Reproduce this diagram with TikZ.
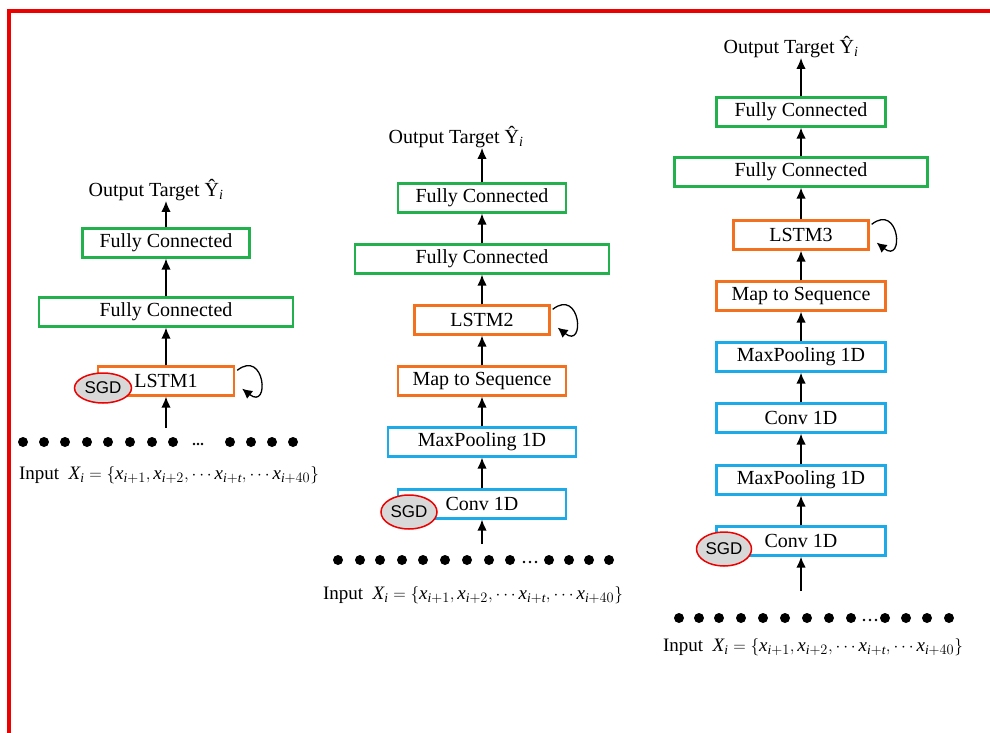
\documentclass[tikz,border=0pt]{standalone}
\usepackage{fontspec}
\setmainfont{Liberation Serif}
\newfontfamily\sgdfont{Liberation Sans}
\usetikzlibrary{arrows.meta,shapes.geometric}
\definecolor{fcgreen}{RGB}{34,177,76}
\definecolor{lorange}{RGB}{242,112,30}
\definecolor{cblue}{RGB}{28,170,232}
\definecolor{sgdgray}{RGB}{216,216,216}
\definecolor{framered}{RGB}{236,0,0}
\newcommand\inputtext{Input\enspace $\mathit{X}_{\mathit{i}}=\{\mathit{x}_{\mathit{i}+1},\mathit{x}_{\mathit{i}+2},\cdots\mathit{x}_{\mathit{i}+\mathit{t}},\cdots\mathit{x}_{\mathit{i}+40}\}$}
\newcommand\outtext{Output Target Ŷ\textsubscript{\itshape i}}
\tikzset{
  box/.style={draw, line width=2.3pt, minimum height=29pt, inner sep=0pt, fill=white,
              font=\fontsize{20}{24}\selectfont},
  fcbox/.style={box, draw=fcgreen},
  lsbox/.style={box, draw=lorange},
  cvbox/.style={box, draw=cblue},
  txt/.style={inner sep=0pt, font=\fontsize{20}{24}\selectfont},
  intxt/.style={inner sep=0pt, font=\fontsize{19}{23}\selectfont},
  sgd/.style={ellipse, draw=framered, line width=1.5pt, fill=sgdgray, inner sep=0pt,
              font=\sgdfont\fontsize{17}{20}\selectfont},
  arr/.style={-{Latex[length=11pt,width=9.5pt]}, line width=1.4pt},
  looparr/.style={-{Latex[length=10pt,width=10pt]}, line width=1.3pt},
  bigdot/.style={fill=black},
}
\begin{document}
\begin{tikzpicture}[x=1pt,y=-1pt]
\useasboundingbox (0,0) rectangle (990,733);
% red frame (top and left edges)
\draw[framered, line width=4pt] (8.5,733) -- (8.5,11) -- (990,11);

% ---------- left column ----------
\node[txt] (outA) at (156,190) {\outtext};
\node[fcbox, minimum width=167pt] (fcA1) at (166,243) {Fully Connected};
\node[fcbox, minimum width=254pt] (fcA2) at (166,312) {Fully Connected};
\node[lsbox, minimum width=136pt] (lsA) at (166,381) {LSTM1};
\node[sgd, minimum width=57pt, minimum height=30pt] (sgdA) at (103,388) {SGD};
\coordinate (inA) at (166,428);
\draw[arr] (fcA1) -- (fcA1 |- outA.south);
\draw[arr] (fcA2) -- (fcA1);
\draw[arr] (lsA) -- (fcA2);
\draw[arr] (inA) -- (lsA);
\draw[looparr] ([shift={(2,5)}]lsA.north east) .. controls +(28,-22) and +(28,22) .. ([shift={(7,-8)}]lsA.south east);
\foreach \x in {23,44,65,87,108,130,152,173,230,251,272,293} \fill[bigdot] (\x,442) circle (5);
\foreach \x in {194,198,202} \fill (\x,444) circle (1.3);
\node[intxt] (xA) at (169,475) {\inputtext};

% ---------- middle column ----------
\node[txt] (outB) at (456,137) {\outtext};
\node[fcbox, minimum width=168pt] (fcB1) at (482,198) {Fully Connected};
\node[fcbox, minimum width=254pt] (fcB2) at (482,259) {Fully Connected};
\node[lsbox, minimum width=135pt] (lsB) at (482,320) {LSTM2};
\node[lsbox, minimum width=168pt] (mapB) at (482,381) {Map to Sequence};
\node[cvbox, minimum width=188pt] (mpB) at (482,442) {MaxPooling 1D};
\node[cvbox, minimum width=168pt] (cvB) at (482,504) {Conv 1D};
\node[sgd, minimum width=56pt, minimum height=34pt] (sgdB) at (409,512) {SGD};
\coordinate (inB) at (482,544);
\draw[arr] (fcB1) -- (fcB1 |- outB.south);
\draw[arr] (fcB2) -- (fcB1);
\draw[arr] (lsB) -- (fcB2);
\draw[arr] (mapB) -- (lsB);
\draw[arr] (mpB) -- (mapB);
\draw[arr] (cvB) -- (mpB);
\draw[arr] (inB) -- (cvB);
\draw[looparr] ([shift={(2,5)}]lsB.north east) .. controls +(28,-22) and +(28,22) .. ([shift={(7,-8)}]lsB.south east);
\foreach \x in {338,360,380,402,423,445,467,489,510,549,569,589,609} \fill[bigdot] (\x,560) circle (5);
\foreach \x in {524,530,536} \fill (\x,562) circle (1.3);
\node[intxt] (xB) at (473,595) {\inputtext};

% ---------- right column ----------
\node[txt] (outC) at (791,47) {\outtext};
\node[fcbox, minimum width=169pt] (fcC1) at (801,112) {Fully Connected};
\node[fcbox, minimum width=253pt] (fcC2) at (801,172) {Fully Connected};
\node[lsbox, minimum width=135pt] (lsC) at (801,235) {LSTM3};
\node[lsbox, minimum width=169pt] (mapC) at (801,296) {Map to Sequence};
\node[cvbox, minimum width=169pt] (mpC1) at (801,357) {MaxPooling 1D};
\node[cvbox, minimum width=169pt] (cvC1) at (801,418) {Conv 1D};
\node[cvbox, minimum width=169pt] (mpC2) at (801,480) {MaxPooling 1D};
\node[cvbox, minimum width=169pt] (cvC2) at (801,541) {Conv 1D};
\node[sgd, minimum width=55pt, minimum height=34pt] (sgdC) at (724,549) {SGD};
\coordinate (inC) at (801,591);
\draw[arr] (fcC1) -- (fcC1 |- outC.south);
\draw[arr] (fcC2) -- (fcC1);
\draw[arr] (lsC) -- (fcC2);
\draw[arr] (mapC) -- (lsC);
\draw[arr] (mpC1) -- (mapC);
\draw[arr] (cvC1) -- (mpC1);
\draw[arr] (mpC2) -- (cvC1);
\draw[arr] (cvC2) -- (mpC2);
\draw[arr] (inC) -- (cvC2);
\draw[looparr] ([shift={(2,5)}]lsC.north east) .. controls +(28,-22) and +(28,22) .. ([shift={(7,-8)}]lsC.south east);
\foreach \x in {679,699,719,741,763,785,807,829,851,885,906,927,949} \fill[bigdot] (\x,618) circle (5);
\foreach \x in {864,870,876} \fill (\x,620) circle (1.3);
\node[intxt] (xC) at (813,647) {\inputtext};
\end{tikzpicture}
\end{document}
